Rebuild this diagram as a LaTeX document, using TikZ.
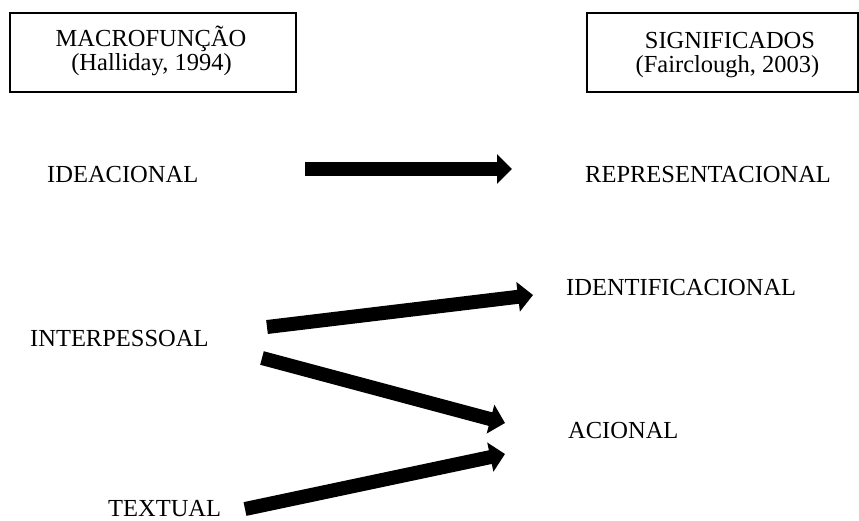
\documentclass[tikz,border=0pt]{standalone}
\usepackage{fontspec}
\setmainfont{Liberation Serif}
\usetikzlibrary{arrows.meta}
\begin{document}
\begin{tikzpicture}[x=1pt,y=-1pt,
  headbox/.style={draw=black,line width=1.2pt,inner sep=0pt},
  headline/.style={inner sep=0pt,anchor=base,font=\fontsize{24.5}{24}\selectfont},
  term/.style={inner sep=0pt,anchor=base west,font=\fontsize{24.5}{24}\selectfont},
  fatarrow/.style={line width=14pt,line cap=butt,
    -{Triangle[length=15pt,width=29pt]}}]
  \useasboundingbox (0,0) rectangle (859,520);

  % column headings: frames and their two lines
  \node[headbox,minimum width=286pt,minimum height=79pt] (macro) at (153,52.5) {};
  \node[headline] (macroT) at (151,46) {MACROFUNÇÃO};
  \node[headline] (macroR) at (151.5,70) {(Halliday, 1994)};
  \node[headbox,minimum width=271pt,minimum height=79pt] (sig) at (722.5,52.5) {};
  \node[headline] (sigT) at (730,48) {SIGNIFICADOS};
  \node[headline] (sigR) at (727.5,72) {(Fairclough, 2003)};

  % metafunctions (left) and meanings (right)
  \node[term] (idea) at (47,182) {IDEACIONAL};
  \node[term] (inter) at (30,346) {INTERPESSOAL};
  \node[term] (text) at (108,516) {TEXTUAL};
  \node[term] (repr) at (585,182) {REPRESENTACIONAL};
  \node[term] (ident) at (566,295) {IDENTIFICACIONAL};
  \node[term] (acion) at (568,438) {ACIONAL};

  % arrow end points
  \coordinate (ideaS) at (305,169);
  \coordinate (reprE) at (512,169);
  \coordinate (interS1) at (267,327);
  \coordinate (identE) at (533,295);
  \coordinate (interS2) at (262,358);
  \coordinate (acionE1) at (505,423);
  \coordinate (textS) at (245,509);
  \coordinate (acionE2) at (505,454);

  \draw[fatarrow] (ideaS) -- (reprE);
  \draw[fatarrow] (interS1) -- (identE);
  \draw[fatarrow] (interS2) -- (acionE1);
  \draw[fatarrow] (textS) -- (acionE2);
\end{tikzpicture}
\end{document}
